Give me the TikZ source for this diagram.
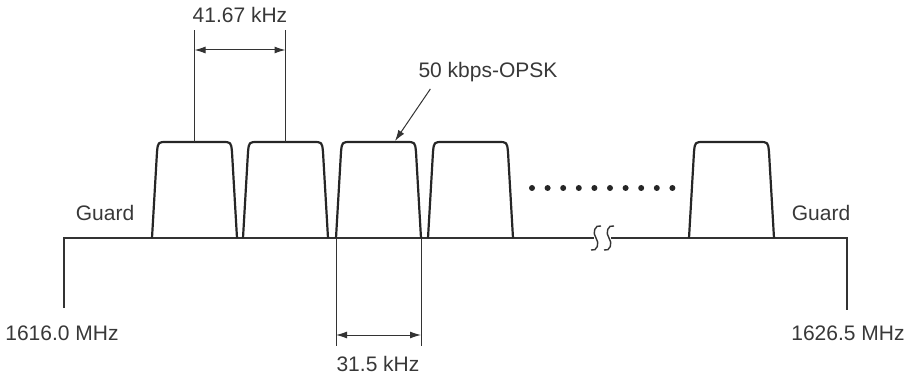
\documentclass[tikz,border=0pt]{standalone}
\usepackage{fontspec}
\setmainfont{Liberation Sans}
\usetikzlibrary{positioning,arrows.meta}
\tikzset{
  axis/.style     = {draw=black!80, line width=1.5pt},
  squig/.style    = {draw=black!80, line width=1.4pt},
  pulse/.style    = {draw=black!85, line width=2.2pt, line join=round},
  dimline/.style  = {draw=black!80, line width=0.9pt},
  dimarrow/.style = {{Latex[length=11pt,width=7pt]}-{Latex[length=11pt,width=7pt]}, draw=black!80, line width=1pt},
  pointer/.style  = {-{Latex[length=11pt,width=7pt]}, draw=black!80, line width=1pt},
  lbl/.style      = {font=\fontsize{21}{23}\selectfont, text=black!78, inner sep=0pt},
  dot/.style      = {circle, fill=black!85, inner sep=0pt, minimum size=6pt},
}

\begin{document}
\begin{tikzpicture}[x=1pt,y=-1pt]
  \useasboundingbox (0,0) rectangle (911,377);

  % baseline with break
  \draw[axis] (64,308) -- (64,238) -- (594,238);
  \draw[axis] (611,238) -- (847,238) -- (847,310);
  \foreach \s in {596,609} {
    \draw[squig] (\s+5,226) .. controls (\s-1,224) and (\s-4,233) .. (\s,238)
                 .. controls (\s+4,243) and (\s+1,252) .. (\s-5,250);
  }

  % channels
  \foreach \x [count=\i] in {152,243,336,428,689} {
    \draw[pulse] (\x,238) -- (\x+5,152) .. controls (\x+6,142) .. (\x+15,142)
                 -- (\x+70,142) .. controls (\x+79,142) .. (\x+80,152) -- (\x+85,238);
    \coordinate (c\i) at (\x+42.5,142);
    \coordinate (bl\i) at (\x,238);
    \coordinate (br\i) at (\x+85,238);
  }

  % more channels
  \foreach \k in {0,...,9} {
    \node[dot] (dot\k) at (532+\k*15.6,188) {};
  }

  % labels
  \node[lbl] (spacing) at (240,15) {41.67 kHz};
  \node[lbl] (opsk) at (488,72) {50 kbps-OPSK};
  \node[lbl] (width) at (378,364) {31.5 kHz};
  \node[lbl] (guardl) at (105,213) {Guard};
  \node[lbl] (guardr) at (821,213) {Guard};
  \node[lbl] (flow) at (62,333) {1616.0 MHz};
  \node[lbl] (fhigh) at (848,333) {1626.5 MHz};

  % channel spacing
  \coordinate (top) at (0,30);
  \draw[dimline] (c1) -- (c1 |- top);
  \draw[dimline] (c2) -- (c2 |- top);
  \draw[dimarrow] (c1 |- 0,50) -- (c2 |- 0,50);

  % channel width
  \coordinate (bot) at (0,346);
  \draw[dimline] (bl3) -- (bl3 |- bot);
  \draw[dimline] (br3) -- (br3 |- bot);
  \draw[dimarrow] (bl3 |- 0,335) -- (br3 |- 0,335);

  % modulation pointer
  \coordinate (hit) at (395,141);
  \draw[pointer] ([xshift=12pt,yshift=-7pt]opsk.south west) -- (hit);
\end{tikzpicture}
\end{document}
